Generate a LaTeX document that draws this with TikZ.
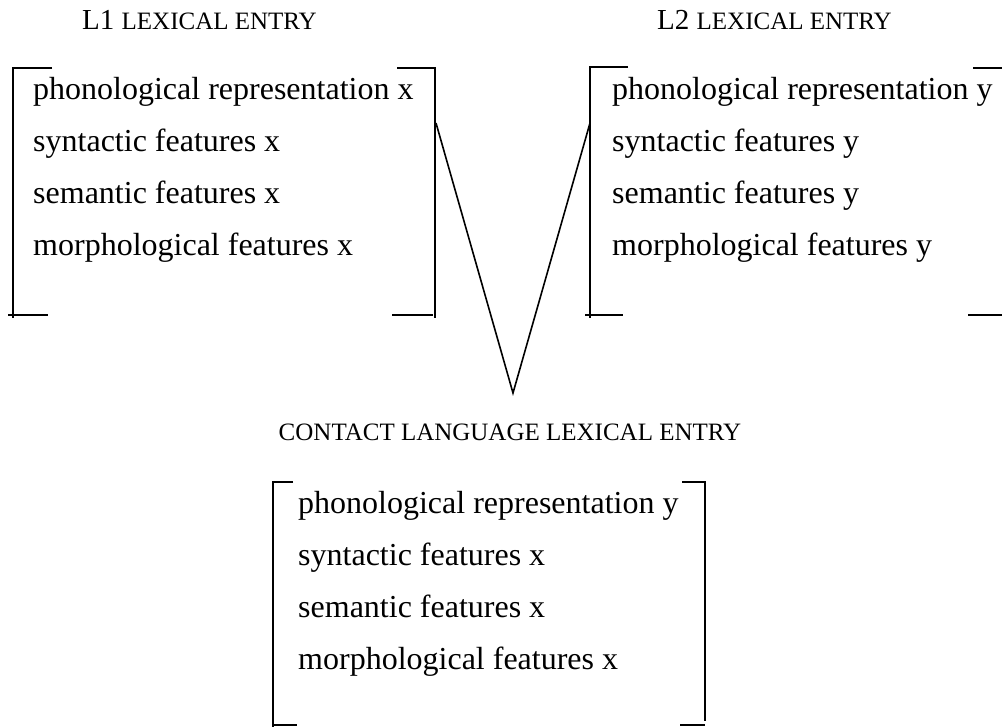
\documentclass[tikz,border=0pt]{standalone}
\usepackage{fontspec}
\setmainfont{Liberation Serif}
\begin{document}
\begin{tikzpicture}[x=1pt,y=-1pt,
  entry/.style={anchor=base west, inner sep=0pt, font=\fontsize{32}{38}\selectfont},
  title/.style={anchor=base west, inner sep=0pt},
  bracket/.style={line width=1.8pt},
  link/.style={line width=1.6pt}]
\useasboundingbox (0,0) rectangle (1002,727);

% titles
\node[title] (t1) at (82,30) {\fontsize{29}{29}\selectfont L1 \fontsize{25}{25}\selectfont LEXICAL ENTRY};
\node[title] (t2) at (657,30) {\fontsize{29}{29}\selectfont L2 \fontsize{25}{25}\selectfont LEXICAL ENTRY};
\node[anchor=base, inner sep=0pt] (t3) at (510,440) {\fontsize{25}{25}\selectfont CONTACT LANGUAGE LEXICAL ENTRY};

% L1 entry
\node[entry] (a1) at (33,100) {phonological representation x};
\node[entry] (a2) at (33,152) {syntactic features x};
\node[entry] (a3) at (33,204) {semantic features x};
\node[entry] (a4) at (33,256) {morphological features x};
\draw[bracket] (52,68) -- (13,68) -- (13,318);
\draw[bracket] (8,315) -- (48,315);
\draw[bracket] (397,68) -- (435,68) -- (435,318);
\draw[bracket] (392,315) -- (433,315);

% L2 entry
\node[entry] (b1) at (612,100) {phonological representation y};
\node[entry] (b2) at (612,152) {syntactic features y};
\node[entry] (b3) at (612,204) {semantic features y};
\node[entry] (b4) at (612,256) {morphological features y};
\draw[bracket] (628,67) -- (590,67) -- (590,318);
\draw[bracket] (585,315) -- (623,315);
\draw[bracket] (973,68) -- (1002,68);
\draw[bracket] (968,315) -- (1002,315);

% contact language entry
\node[entry] (c1) at (298,513) {phonological representation y};
\node[entry] (c2) at (298,565) {syntactic features x};
\node[entry] (c3) at (298,617) {semantic features x};
\node[entry] (c4) at (298,669) {morphological features x};
\draw[bracket] (293,482) -- (273,482) -- (273,727);
\draw[bracket] (273,725) -- (297,725);
\draw[bracket] (682,482) -- (705,482) -- (705,721);
\draw[bracket] (680,725) -- (705,725);

% V connector
\coordinate (j1) at (436,123);
\coordinate (j2) at (590,123);
\coordinate (apex) at (513,393);
\draw[link, line join=miter] (j1) -- (apex) -- (j2);
\end{tikzpicture}
\end{document}
